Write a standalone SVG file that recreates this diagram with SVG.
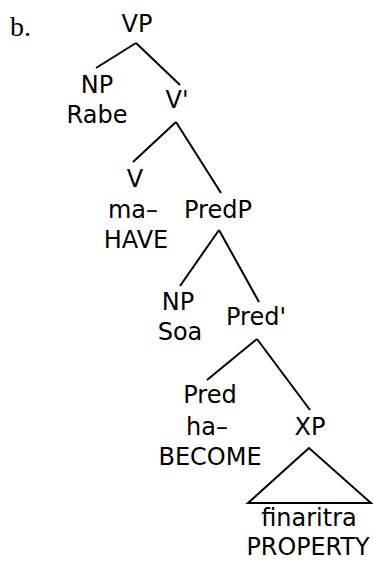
<svg xmlns="http://www.w3.org/2000/svg" width="373" height="561" viewBox="0 0 373 561">
<style>
text{font-family:"DejaVu Sans",Verdana,sans-serif;font-size:24px;fill:#000;text-anchor:middle}
.lbl{font-family:"Liberation Serif","Times New Roman",serif;font-size:28px;text-anchor:start}
#edges line,#edges polygon{stroke:#000;stroke-width:2;fill:none}
</style>
<rect width="373" height="561" fill="#fff"/>
<text class="lbl" x="10" y="36">b.</text>
<g id="edges">
<line x1="136" y1="43" x2="96" y2="68"/>
<line x1="136" y1="43" x2="180" y2="85"/>
<line x1="176" y1="122" x2="133" y2="162"/>
<line x1="176" y1="122" x2="221" y2="193"/>
<line x1="219" y1="230" x2="180" y2="286"/>
<line x1="219" y1="230" x2="259" y2="302"/>
<line x1="257" y1="339" x2="207" y2="380"/>
<line x1="257" y1="339" x2="310" y2="410"/>
<polygon points="309,448 248,503 371,503"/>
</g>
<g id="VP"><text x="137" y="32">VP</text></g>
<g id="NP1"><text x="97" y="93">NP</text><text x="97" y="123">Rabe</text></g>
<g id="Vbar"><text x="177" y="108">V'</text></g>
<g id="V"><text x="135" y="187">V</text><text x="133" y="218">ma–</text><text x="136" y="248">HAVE</text></g>
<g id="PredP"><text x="218" y="218">PredP</text></g>
<g id="NP2"><text x="178" y="310">NP</text><text x="180" y="340">Soa</text></g>
<g id="Predbar"><text x="256" y="325">Pred'</text></g>
<g id="Pred"><text x="210" y="403">Pred</text><text x="207" y="435">ha–</text><text x="210" y="465">BECOME</text></g>
<g id="XP"><text x="310" y="435">XP</text></g>
<g id="leaf"><text x="309" y="526">finaritra</text><text x="308" y="555" textLength="123" lengthAdjust="spacingAndGlyphs">PROPERTY</text></g>
</svg>
